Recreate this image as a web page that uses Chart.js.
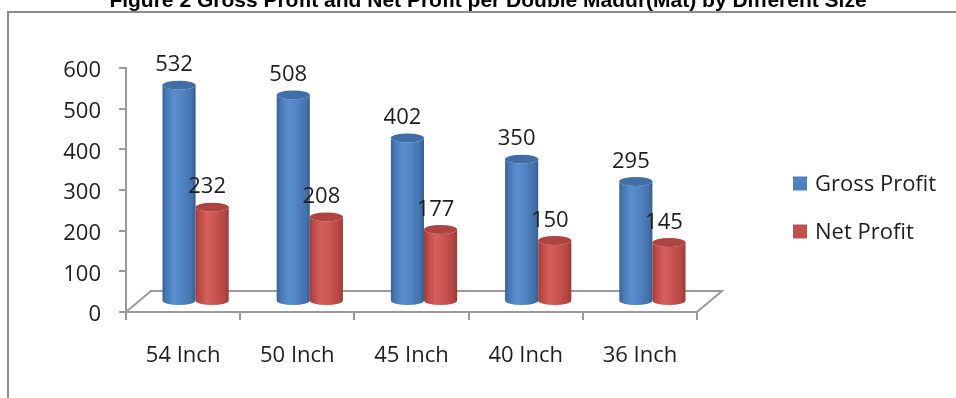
<!DOCTYPE html>
<html>
<head>
<meta charset="utf-8">
<script src="https://cdn.jsdelivr.net/npm/chart.js@4.4.1/dist/chart.umd.min.js"></script>
<style>
  html, body { margin: 0; padding: 0; background: #ffffff; }
  canvas { display: block; }
</style>
</head>
<body>
<canvas id="chart" width="956" height="398"></canvas>
<script>
// Sizes of double madur (mat)
const categories = ['54 Inch', '50 Inch', '45 Inch', '40 Inch', '36 Inch'];
// Profit per double madur
const grossProfit = [532, 508, 402, 350, 295];
const netProfit = [232, 208, 177, 150, 145];
const seriesNames = ['Gross Profit', 'Net Profit'];
const chartTitle = 'Figure 2 Gross Profit and Net Profit per Double Madur(Mat) by Different Size';

const axisFont = { family: "'Open Sans', 'Noto Sans', sans-serif", size: 22 };
const axisGrey = '#9a9a9a';
const textColor = '#1e1e1e';

// Cylinder shading: body gradient stops, cap colour, legend swatch
const shades = [
  {
    body: [[0, '#3a6398'], [0.12, '#4878b5'], [0.35, '#5a8ecf'], [0.6, '#5084c4'], [0.88, '#4472ab'], [1, '#375e91']],
    cap: '#406ea6',
    swatch: '#4f81bd'
  },
  {
    body: [[0, '#a03d3a'], [0.12, '#bd4a47'], [0.35, '#d5605c'], [0.6, '#c95451'], [0.88, '#b44643'], [1, '#9a3936']],
    cap: '#ae4441',
    swatch: '#c0504d'
  }
];

// 3D floor depth (back edge offset from the front edge)
const depth = { dx: 25, dy: -21 };
const capRy = 4.5;

function drawCylinder(ctx, cx, top, base, w, shade) {
  const rx = w / 2;
  const g = ctx.createLinearGradient(cx - rx, 0, cx + rx, 0);
  shade.body.forEach(([o, c]) => g.addColorStop(o, c));
  ctx.fillStyle = g;
  ctx.beginPath();
  ctx.moveTo(cx - rx, top);
  ctx.lineTo(cx - rx, base);
  ctx.ellipse(cx, base, rx, capRy, 0, Math.PI, 0, true);
  ctx.lineTo(cx + rx, top);
  ctx.ellipse(cx, top, rx, capRy, 0, 0, Math.PI, false);
  ctx.closePath();
  ctx.fill();
  ctx.fillStyle = shade.cap;
  ctx.beginPath();
  ctx.ellipse(cx, top, rx, capRy, 0, 0, Math.PI * 2);
  ctx.fill();
}

const framePlugin = {
  id: 'frame',
  beforeDraw(chart) {
    const ctx = chart.ctx;
    ctx.save();
    ctx.fillStyle = '#ffffff';
    ctx.fillRect(0, 0, chart.width, chart.height);
    ctx.fillStyle = '#8c8c8c';
    ctx.fillRect(7, 11, chart.width - 7, 2);
    ctx.fillRect(7, 11, 2, chart.height - 11);
    ctx.fillStyle = '#000000';
    ctx.font = "bold 21px 'Liberation Sans', Arial, sans-serif";
    ctx.textAlign = 'center';
    ctx.textBaseline = 'alphabetic';
    ctx.fillText(chartTitle, 488, 7);
    ctx.restore();
  }
};

const cylinderPlugin = {
  id: 'cylinders',
  beforeDatasetDraw() {
    return false; // bars are rendered as cylinders below
  },
  afterDatasetsDraw(chart) {
    const ctx = chart.ctx;
    const { left, right, bottom } = chart.chartArea;
    ctx.save();
    // floor
    ctx.strokeStyle = axisGrey;
    ctx.lineWidth = 2;
    ctx.beginPath();
    ctx.moveTo(left, bottom);
    ctx.lineTo(left + depth.dx, bottom + depth.dy);
    ctx.lineTo(right + depth.dx, bottom + depth.dy);
    ctx.lineTo(right, bottom);
    ctx.stroke();

    const sx = depth.dx / 2, sy = depth.dy / 2;
    const tops = [];
    chart.data.labels.forEach((_, i) => {
      chart.data.datasets.forEach((ds, di) => {
        const el = chart.getDatasetMeta(di).data[i];
        const p = el.getProps(['x', 'y', 'base', 'width'], true);
        drawCylinder(ctx, p.x + sx, p.y + sy, p.base + sy, p.width, shades[di]);
        tops.push({ x: p.x + sx, y: p.y + sy, v: ds.data[i] });
      });
    });

    // value labels
    ctx.fillStyle = textColor;
    ctx.font = `${axisFont.size}px ${axisFont.family}`;
    ctx.textAlign = 'center';
    ctx.textBaseline = 'middle';
    tops.forEach(t => ctx.fillText(String(t.v), t.x - 5, t.y - 20));
    ctx.restore();
  },
  afterDraw(chart) {
    const ctx = chart.ctx;
    ctx.save();
    ctx.font = `${axisFont.size}px ${axisFont.family}`;
    ctx.textAlign = 'left';
    ctx.textBaseline = 'middle';
    chart.data.datasets.forEach((ds, di) => {
      const cy = 183.5 + di * 48;
      ctx.fillStyle = shades[di].swatch;
      ctx.fillRect(793, cy - 7, 14, 14);
      ctx.fillStyle = textColor;
      ctx.fillText(ds.label, 815, cy + 1);
    });
    ctx.restore();
  }
};

new Chart(document.getElementById('chart'), {
  type: 'bar',
  data: {
    labels: categories,
    datasets: [
      { label: seriesNames[0], data: grossProfit, backgroundColor: shades[0].swatch },
      { label: seriesNames[1], data: netProfit, backgroundColor: shades[1].swatch }
    ]
  },
  options: {
    responsive: false,
    animation: false,
    devicePixelRatio: 1,
    categoryPercentage: 0.58,
    barPercentage: 1,
    layout: { padding: { left: 0, top: 68, right: 259, bottom: 26 } },
    plugins: {
      legend: { display: false },
      title: { display: false },
      tooltip: { enabled: false }
    },
    scales: {
      x: {
        grid: { drawOnChartArea: false, drawTicks: true, tickLength: 8, color: axisGrey, lineWidth: 2 },
        border: { display: true, color: axisGrey, width: 2 },
        ticks: { font: axisFont, color: textColor, padding: 23, maxRotation: 0 },
        afterFit(scale) { scale.height = 60; }
      },
      y: {
        min: 0,
        max: 600,
        grid: { drawOnChartArea: false, drawTicks: true, tickLength: 7, color: axisGrey, lineWidth: 2 },
        border: { display: true, color: axisGrey, width: 2 },
        ticks: { stepSize: 100, font: axisFont, color: textColor, padding: 18, labelOffset: 3 },
        afterFit(scale) { scale.width = 126; }
      }
    }
  },
  plugins: [framePlugin, cylinderPlugin]
});
</script>
</body>
</html>
